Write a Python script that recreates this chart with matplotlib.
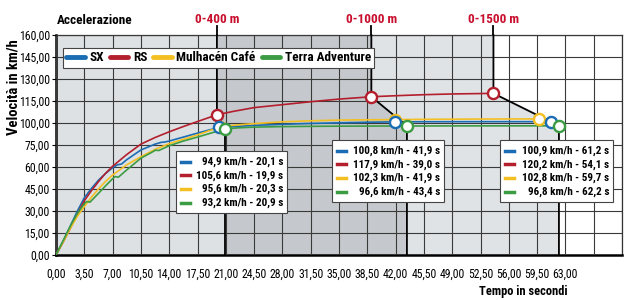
import matplotlib
matplotlib.use("Agg")
import matplotlib.pyplot as plt
import matplotlib.transforms as mtransforms
from matplotlib.lines import Line2D
from matplotlib.patches import Rectangle
import numpy as np

plt.rcParams['font.family'] = ['DejaVu Sans Condensed', 'Roboto Condensed',
                               'Liberation Sans Narrow', 'Roboto', 'DejaVu Sans']

# --- data -------------------------------------------------------------
series = ['SX', 'RS', 'Mulhacén Café', 'Terra Adventure']
colors = ['#1b6db3', '#b31f2d', '#f3bf22', '#3b9c43']

# acceleration curves (time s, speed km/h)
t_sx = [0, 0.9, 1.75, 2.6, 3.5, 4.4, 5.25, 6.1, 7, 7.6, 8.1, 8.75, 10.5, 12.25,
        13.0, 13.4, 14, 15.75, 17.5, 22, 24.5, 28, 31.5, 35, 38.5, 45.5, 52.5]
v_sx = [0, 9.5, 19.5, 29.5, 39, 45.5, 51, 55.5, 59.5, 61.5, 62, 65, 71.6, 76,
        78, 78.3, 79.5, 84, 88.5, 96, 97.3, 98.5, 99.5, 100.1, 100.5, 100.85, 100.9]

t_rs = [0, 0.9, 1.75, 2.6, 3.5, 4.4, 5.25, 6.1, 7, 8.75, 10.5, 12.25, 14,
        15.75, 17.5, 22, 24.5, 28, 31.5, 35, 42, 45.5, 49]
v_rs = [0, 9, 18, 27.5, 37, 44, 50, 55.5, 60.5, 68.5, 76, 83.5, 90,
        96, 101, 108, 110.5, 112.5, 114.5, 116.3, 118.6, 119.3, 119.8]

t_mc = [0, 0.9, 1.75, 2.6, 3.5, 4.4, 5.25, 6.1, 7, 8.75, 10.5, 12.25, 14,
        15.75, 17.5, 22, 24.5, 28, 31.5, 35, 38.5, 45.5, 52.5]
v_mc = [0, 9, 18, 26, 33, 39.5, 45, 50, 54.5, 61.5, 67, 72, 76.5,
        81.5, 86.5, 97.5, 99.3, 100.8, 101.5, 102, 102.2, 102.5, 102.7]

t_ta = [0, 0.9, 1.75, 2.6, 3.5, 3.8, 4.2, 5.25, 6.1, 7, 7.3, 7.7, 8.75, 10.5,
        12.0, 12.3, 12.7, 14, 15.75, 17.5, 22.5, 24.5, 28, 31.5, 35, 38.5, 49, 56]
v_ta = [0, 10, 19.5, 28, 35, 36.5, 36, 42, 47, 52, 53.5, 53, 58, 66,
        70.5, 71.5, 71.2, 74.5, 79.5, 84, 94.5, 95.3, 95.9, 96.2, 96.4, 96.5, 96.7, 96.75]

# measured points for 0-400 m, 0-1000 m, 0-1500 m
distances = ['0-400 m', '0-1000 m', '0-1500 m']
mark_v = [[94.9, 100.8, 100.9],
          [105.6, 117.9, 120.2],
          [95.6, 102.3, 102.8],
          [93.2, 96.6, 96.8]]
mark_t = [[20.1, 41.9, 61.2],
          [19.9, 39.0, 54.1],
          [20.3, 41.9, 59.7],
          [20.9, 43.4, 62.2]]

curves_t = [t_sx, t_rs, t_mc, t_ta]
curves_v = [v_sx, v_rs, v_mc, v_ta]

y_ticks = [0, 15, 30, 45, 60, 75, 100, 115, 130, 145, 160]
x_ticks = [3.5 * i for i in range(19)]

# broken y scale: 75 -> 100 squeezed into one grid step
y_break_v = [-1000, 0, 75, 100, 160, 1000]
y_break_p = [-1000 / 15, 0, 5, 6, 10, 10 + 840 / 15]


def fwd(v):
    return np.interp(v, y_break_v, y_break_p)


def inv(p):
    return np.interp(p, y_break_p, y_break_v)


def comma(x, n):
    return f"{x:.{n}f}".replace('.', ',')


W, H = 630, 300
fig = plt.figure(figsize=(W / 100, H / 100), dpi=100)
ax = fig.add_axes([56 / W, 45 / H, 566 / W, 220 / H])
ax.set_yscale('function', functions=(fwd, inv))
ax.set_xlim(0, 70)
ax.set_ylim(0, 160)

# shaded zones bounded by the connector lines
red_i, slow_i = 1, 3
zone_cols = ['#dde1e4', '#c5c9cd', '#e0e3e6']
prev = [(0, 0), (0, 160)]
for k in range(3):
    rt, rv = mark_t[red_i][k], mark_v[red_i][k]
    gt, gv = mark_t[slow_i][k], mark_v[slow_i][k]
    edge = [(rt, 160), (rt, rv), (gt, gv), (gt, 0)]
    poly = prev + edge
    ax.fill([p[0] for p in poly], [p[1] for p in poly], color=zone_cols[k],
            lw=0, zorder=0)
    prev = edge[::-1]

# grid
ax.set_xticks(x_ticks)
ax.set_xticklabels([comma(x, 2) for x in x_ticks])
ax.set_xticks([66.5, 70], minor=True)
ax.set_yticks(y_ticks)
ax.set_yticklabels([comma(y, 2) for y in y_ticks])
ax.yaxis.set_minor_locator(matplotlib.ticker.NullLocator())
ax.grid(True, which='both', color='#3a3a3a', lw=0.8, zorder=1)
ax.set_axisbelow(False)
ax.tick_params(axis='x', which='both', length=0, pad=9, labelsize=8.5)
ax.tick_params(axis='y', length=3, width=0.8, pad=1.5, labelsize=8.5)
for s in ['top', 'right']:
    ax.spines[s].set_linewidth(0.9)
    ax.spines[s].set_color('#333333')
for s in ['left', 'bottom']:
    ax.spines[s].set_linewidth(1.8)

# curves
for i in range(4):
    t = list(curves_t[i]) + mark_t[i]
    v = list(curves_v[i]) + mark_v[i]
    order = np.argsort(t)
    ax.plot(np.array(t)[order], np.array(v)[order], color=colors[i], lw=1.2,
            zorder=3)

# connectors + labels
blend = mtransforms.blended_transform_factory(ax.transData, ax.transAxes)
for k in range(3):
    rt, rv = mark_t[red_i][k], mark_v[red_i][k]
    gt, gv = mark_t[slow_i][k], mark_v[slow_i][k]
    ax.plot([rt, rt, gt, gt], [160, rv, gv, 0], color='black', lw=1.3,
            zorder=4, clip_on=False)
    ax.plot([rt, rt], [1.0, 1.04], color='black', lw=1.3, transform=blend,
            clip_on=False)
    ax.text(rt, 1.07, distances[k], transform=blend, ha='center', va='center',
            color='#c8102e', fontsize=9.5, fontweight='bold')

# markers
for k in range(3):
    for i in [1, 2, 0, 3]:
        ax.plot(mark_t[i][k], mark_v[i][k], 'o', ms=8, mfc='white',
                mec=colors[i], mew=1.7, zorder=5)

# legend
handles = [Line2D([], [], color=c, lw=3.5, solid_capstyle='round')
           for c in colors]
leg = ax.legend(handles, series, ncol=4, loc='upper left',
                bbox_to_anchor=(7 / 566, 207 / 220), frameon=True,
                fancybox=False, framealpha=1, edgecolor='#444444',
                handlelength=1.4, handletextpad=0.35, columnspacing=0.45,
                borderpad=0.25, borderaxespad=0,
                prop={'weight': 'bold', 'size': 9.5})
leg.get_frame().set_linewidth(0.8)
leg.set_zorder(10)

# value boxes (pixel layout)
boxes = [(176, 287, 151), (332, 444, 140), (500, 613, 140)]
for k, (x0, x1, y0) in enumerate(boxes):
    fig.patches.append(Rectangle((x0 / W, 1 - (y0 + 62) / H), (x1 - x0) / W,
                                 62 / H, transform=fig.transFigure,
                                 facecolor='white', edgecolor='#444444',
                                 lw=0.8, zorder=5))
    for i in range(4):
        yc = y0 + 10.5 + i * 13.9
        txt = f"{comma(mark_v[i][k], 1)} km/h - {comma(mark_t[i][k], 1)} s"
        fig.text((x1 - 4) / W, 1 - yc / H, txt, ha='right', va='center',
                 fontsize=8, fontweight='bold', zorder=6)
        fig.add_artist(Line2D([(x0 + 5) / W, (x0 + 14) / W],
                              [1 - yc / H, 1 - yc / H], color=colors[i],
                              lw=2.5, transform=fig.transFigure, zorder=6))

fig.text(57 / W, 1 - 20 / H, 'Accelerazione', ha='left', va='center',
         fontsize=9.5, fontweight='bold')
fig.text(14 / W, 1 - 87 / H, 'Velocità in km/h', rotation=90, ha='center',
         va='center', fontsize=10.5, fontweight='bold')
fig.text(523 / W, 1 - 291 / H, 'Tempo in secondi', ha='center', va='center',
         fontsize=9, fontweight='bold')

fig.savefig('out.png', dpi=100)
